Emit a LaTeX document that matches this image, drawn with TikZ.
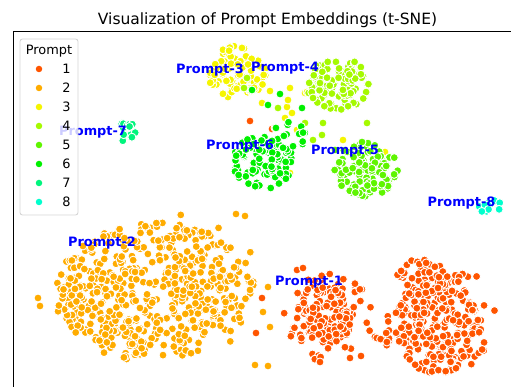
\documentclass[tikz,border=0pt]{standalone}
\usepackage{fontspec}
\setmainfont{DejaVu Sans}

% palette of the eight prompts
\definecolor{p1}{RGB}{255,85,0}
\definecolor{p2}{RGB}{255,172,0}
\definecolor{p3}{RGB}{245,245,0}
\definecolor{p4}{RGB}{165,250,0}
\definecolor{p5}{RGB}{95,245,0}
\definecolor{p6}{RGB}{0,240,0}
\definecolor{p7}{RGB}{0,245,125}
\definecolor{p8}{RGB}{0,255,205}
\definecolor{legframe}{RGB}{204,204,204}

\tikzset{
  pt/.style={fill=#1, draw=white, line width=0.9pt},
  lbl/.style={text=blue, font=\fontsize{12.9}{15}\selectfont\bfseries, anchor=base, inner sep=0pt},
  legtxt/.style={font=\fontsize{12.9}{15}\selectfont, anchor=base, inner sep=0pt},
  legdot/.style={circle, fill=#1, minimum size=6.5pt, inner sep=0pt},
}

% n points spread uniformly over an ellipse: colour, cx, cy, rx, ry, n
\newcommand\scatterblob[6]{%
  \foreach \k in {1,...,#6}{%
    \pgfmathsetmacro\rr{sqrt(rnd)}%
    \pgfmathsetmacro\aa{360*rnd}%
    \fill[pt=#1] ({#2+#4*\rr*cos(\aa)},{#3+#5*\rr*sin(\aa)}) circle (4pt);%
  }}
% single points: colour, list x/y
\newcommand\scatterpts[2]{%
  \foreach \px/\py in {#2}{\fill[pt=#1] (\px,\py) circle (4pt);}}

\begin{document}
\begin{tikzpicture}[x=1pt,y=-1pt]
\useasboundingbox (0,0) rectangle (511,387);
\pgfmathsetseed{2024}

% ---- prompt 1 ----
\scatterblob{p1}{328}{312}{30}{31}{110}
\scatterblob{p1}{328}{318}{46}{46}{50}
\scatterblob{p1}{438}{324}{44}{50}{220}
\scatterblob{p1}{422}{278}{25}{20}{35}
\scatterblob{p1}{440}{318}{56}{62}{50}
\scatterblob{p1}{383}{338}{12}{9}{10}
\scatterpts{p1}{297/270,303/268,262/298,256/333,250/121,272/129,320/362,350/358,361/356}

% ---- prompt 2 ----
\scatterblob{p2}{155}{290}{100}{68}{470}
\scatterblob{p2}{158}{287}{110}{76}{60}
\scatterblob{p2}{85}{300}{30}{35}{40}
\scatterpts{p2}{38/298,40/306,268/287,263/312,270/327,255/365,268/366,236/214,245/216}

% ---- prompt 3 ----
\scatterblob{p3}{237}{72}{30}{27}{95}
\scatterpts{p3}{270/91,290/88,287/107,288/100,285/118,292/113,275/128,305/93,307/92,343/140,385/152,290/173,262/103,297/130}

% ---- prompt 4 ----
\scatterblob{p4}{338}{84}{32}{26}{110}
\scatterpts{p4}{278/108,323/123,322/135,367/123,313/98,305/123,313/140,247/78,244/88}

% ---- prompt 5 ----
\scatterblob{p5}{366}{170}{32}{27}{110}
\scatterpts{p5}{362/142,335/150}

% ---- prompt 6 ----
\scatterblob{p6}{263}{162}{30}{27}{95}
\scatterblob{p6}{288}{136}{18}{14}{22}
\scatterpts{p6}{280/94,268/105,302/108,252/90}

% ---- prompt 7 ----
\scatterblob{p7}{127}{131}{12}{11}{14}

% ---- prompt 8 ----
\scatterblob{p8}{490}{206}{12}{9}{14}

% axes spines
\coordinate (axbl) at (13,387);
\coordinate (axtl) at (13,32);
\coordinate (axtr) at (511,32);
\draw[line width=1pt] (axbl) -- (axtl) -- (axtr);

% title
\node[anchor=base, inner sep=0pt, font=\fontsize{15.5}{18}\selectfont] (title) at (267.5,25)
  {Visualization of Prompt Embeddings (t-SNE)};

% cluster labels
\node[lbl] (l1) at (309,285) {Prompt-1};
\node[lbl] (l2) at (102,246.5) {Prompt-2};
\node[lbl] (l3) at (210,73.5) {Prompt-3};
\node[lbl] (l4) at (285,72) {Prompt-4};
\node[lbl] (l5) at (345,155) {Prompt-5};
\node[lbl] (l6) at (240,150) {Prompt-6};
\node[lbl] (l7) at (93,136) {Prompt-7};
\node[lbl] (l8) at (461.5,207) {Prompt-8};

% legend
\node[draw=legframe, fill=white, fill opacity=0.8, draw opacity=0.8, rounded corners=2.5pt,
      line width=0.9pt, minimum width=58pt, minimum height=176pt, inner sep=0pt] (legbox) at (49,127) {};
\node[legtxt] (legtitle) at (49,54.5) {Prompt};
\foreach \i/\yy in {1/69,2/88,3/107,4/126,5/145,6/164,7/183,8/202}{
  \node[legdot=p\i] (ld\i) at (39,\yy) {};
  \node[legtxt] (lt\i) at (66.5,\yy+4.7) {\i};
}
\end{tikzpicture}
\end{document}
